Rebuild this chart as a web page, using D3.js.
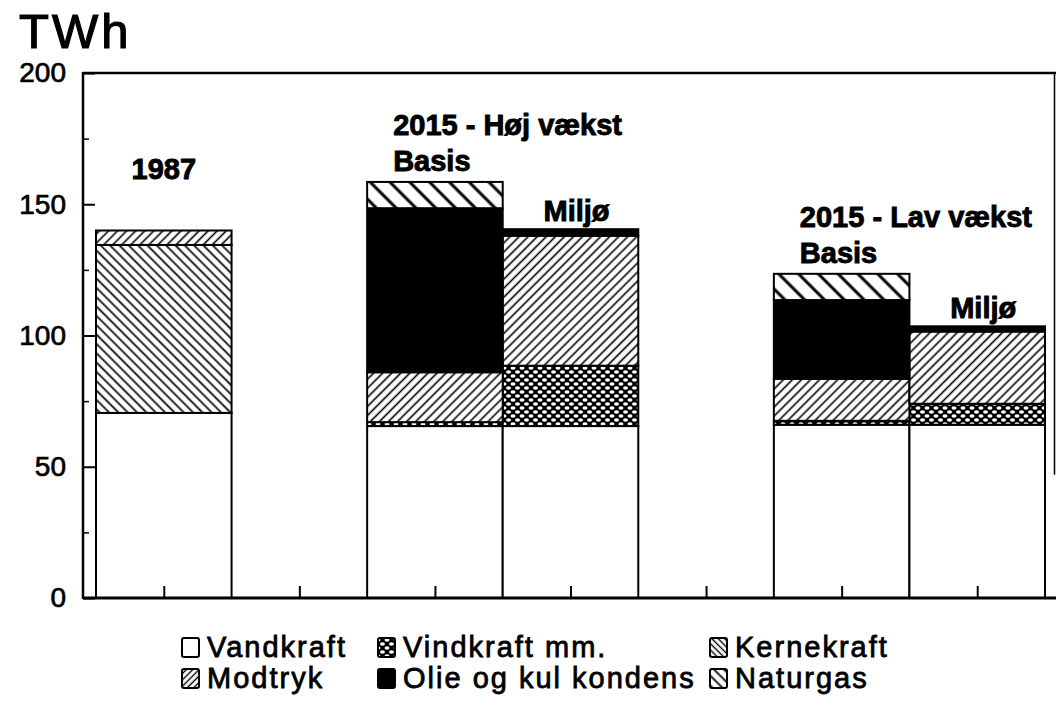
<!DOCTYPE html>
<html>
<head>
<meta charset="utf-8">
<script src="https://cdn.jsdelivr.net/npm/d3@7"></script>
<style>
  body { margin: 0; background: #fff; }
  svg { display: block; font-family: "Liberation Sans", Arial, Helvetica, sans-serif; }
</style>
</head>
<body>
<div id="chart"></div>
<script>
// slots along the x axis (two empty gaps between groups)
const slots = ["1987", "gap1", "hoj-basis", "hoj-miljo", "gap2", "lav-basis", "lav-miljo"];
const bars = ["1987", "hoj-basis", "hoj-miljo", "lav-basis", "lav-miljo"];

// TWh per bar, same order as bars
const vandkraft  = [70.5, 65.5, 65.5, 66, 66];
const vindkraft  = [0, 1.5, 23, 1.5, 8];
const kernekraft = [64, 0, 0, 0, 0];
const modtryk    = [5.5, 19, 49.5, 16, 27.5];
const olie       = [0, 62.5, 2.5, 30, 2];
const naturgas   = [0, 10, 0, 10, 0];

const seriesKeys = ["vandkraft", "vindkraft", "kernekraft", "modtryk", "olie", "naturgas"];
const seriesNames = ["Vandkraft", "Vindkraft mm.", "Kernekraft", "Modtryk", "Olie og kul kondens", "Naturgas"];
const legendOrder = ["vandkraft", "vindkraft", "kernekraft", "modtryk", "olie", "naturgas"];

const yTicks = [0, 50, 100, 150, 200];
const yMinorTicks = [25, 75, 125, 175];

const barLabels = ["1987", "Basis", "Miljø", "Basis", "Miljø"];
const groupTitles = [
    {label: "2015 - Høj vækst", bar: "hoj-basis"},
    {label: "2015 - Lav vækst", bar: "lav-basis"}
];

const W = 1056, H = 711;
const margin = {top: 73, right: 11, bottom: 113, left: 83};
const fillOf = {
    vandkraft: "#fff",
    vindkraft: "url(#p-vind)",
    kernekraft: "url(#p-kern)",
    modtryk: "url(#p-mod)",
    olie: "#000",
    naturgas: "url(#p-gas)"
};

function buildRows() {
    return bars.map((b, i) => ({
        bar: b,
        vandkraft: vandkraft[i],
        vindkraft: vindkraft[i],
        kernekraft: kernekraft[i],
        modtryk: modtryk[i],
        olie: olie[i],
        naturgas: naturgas[i]
    }));
}

function addPatterns(svg) {
    const defs = svg.append("defs");

    function lines(id, size, angle, sw) {
        const p = defs.append("pattern")
            .attr("id", id)
            .attr("patternUnits", "userSpaceOnUse")
            .attr("width", size).attr("height", size)
            .attr("patternTransform", `rotate(${angle})`);
        p.append("rect").attr("width", size).attr("height", size).attr("fill", "#fff");
        p.append("line")
            .attr("x1", size / 2).attr("y1", -1)
            .attr("x2", size / 2).attr("y2", size + 1)
            .attr("stroke", "#000").attr("stroke-width", sw);
    }
    lines("p-kern", 6.6, -45, 1.7);
    lines("p-mod", 6.4, 45, 1.6);
    lines("p-gas", 14, -45, 3);
    lines("p-kern-l", 4.5, -45, 1.4);
    lines("p-mod-l", 4.5, 45, 1.4);
    lines("p-gas-l", 7, -45, 1.8);

    const v = defs.append("pattern")
        .attr("id", "p-vind")
        .attr("patternUnits", "userSpaceOnUse")
        .attr("width", 9).attr("height", 8);
    v.append("rect").attr("width", 9).attr("height", 8).attr("fill", "#000");
    [[0, 0], [9, 0], [4.5, 4], [0, 8], [9, 8]].forEach(([cx, cy]) => {
        v.append("ellipse").attr("cx", cx).attr("cy", cy)
            .attr("rx", 2.5).attr("ry", 1.8).attr("fill", "#fff");
    });
}

function drawChart() {
    const svg = d3.select("#chart").append("svg")
        .attr("width", W).attr("height", H);

    addPatterns(svg);

    const x = d3.scaleBand().domain(slots).range([96, 1045]).padding(0);
    const y = d3.scaleLinear().domain([0, 200]).range([H - margin.bottom, margin.top]);

    const rows = buildRows();
    const stack = d3.stack().keys(seriesKeys);
    const stacked = stack(rows);

    // bar segments
    const g = svg.append("g").attr("class", "bars");
    stacked.forEach(layer => {
        g.selectAll(null)
            .data(layer.filter(d => d[1] - d[0] > 0))
            .enter().append("rect")
            .attr("x", d => x(d.data.bar))
            .attr("y", d => y(d[1]))
            .attr("width", x.bandwidth())
            .attr("height", d => y(d[0]) - y(d[1]))
            .attr("fill", fillOf[layer.key])
            .attr("stroke", "#000")
            .attr("stroke-width", 2);
    });

    // frame
    const x0 = margin.left, x1 = W, yb = y(0), yt = y(200);
    svg.append("line").attr("x1", x0).attr("x2", x1).attr("y1", yt).attr("y2", yt)
        .attr("stroke", "#000").attr("stroke-width", 2.5);
    svg.append("line").attr("x1", x0).attr("x2", x1).attr("y1", yb).attr("y2", yb)
        .attr("stroke", "#000").attr("stroke-width", 3);
    svg.append("line").attr("x1", x0).attr("x2", x0).attr("y1", yt - 1).attr("y2", yb + 1)
        .attr("stroke", "#000").attr("stroke-width", 2.5);
    svg.append("line").attr("x1", W - 1.5).attr("x2", W - 1.5).attr("y1", yt).attr("y2", y(47))
        .attr("stroke", "#000").attr("stroke-width", 1.5);

    // y axis
    const yAxis = d3.axisLeft(y).tickValues(yTicks).tickSize(-12).tickPadding(17).tickFormat(d3.format("d"));
    const yAx = svg.append("g").attr("transform", `translate(${x0},0)`).call(yAxis);
    yAx.select(".domain").remove();
    yAx.selectAll("line").attr("stroke", "#000").attr("stroke-width", 2);
    yAx.selectAll("text")
        .style("font-size", "28px")
        .style("font-family", "'Liberation Sans', Arial, sans-serif")
        .attr("fill", "#000")
        .attr("stroke", "#000").attr("stroke-width", 0.7);

    const yMinor = d3.axisLeft(y).tickValues(yMinorTicks).tickSize(-6).tickFormat("");
    const yMi = svg.append("g").attr("transform", `translate(${x0},0)`).call(yMinor);
    yMi.select(".domain").remove();
    yMi.selectAll("line").attr("stroke", "#000").attr("stroke-width", 1.5);

    // x axis: short ticks in the middle of every slot
    const xCenters = slots.map(s => x(s) + x.bandwidth() / 2);
    const xPos = d3.scaleIdentity();
    const xAxis = d3.axisTop(xPos).tickValues(xCenters).tickSize(12).tickFormat("");
    const xAx = svg.append("g").attr("transform", `translate(0,${yb})`).call(xAxis);
    xAx.select(".domain").remove();
    xAx.selectAll("line").attr("stroke", "#000").attr("stroke-width", 2);

    // unit
    svg.append("text")
        .attr("x", 19).attr("y", 48)
        .style("font-size", "49px")
        .style("letter-spacing", "3px")
        .attr("stroke", "#000").attr("stroke-width", 1.2)
        .text("TWh");

    // bar labels
    const totals = rows.map(r => d3.sum(seriesKeys, k => r[k]));
    const labelG = svg.append("g")
        .style("font-weight", "bold").style("font-size", "29px")
        .attr("stroke", "#000").attr("stroke-width", 0.9);
    bars.forEach((b, i) => {
        const lab = barLabels[i];
        const top = y(totals[i]);
        if (lab === "1987") {
            labelG.append("text").attr("x", x(b) + x.bandwidth() / 2).attr("y", top - 52)
                .attr("text-anchor", "middle").text(lab);
        } else if (lab === "Basis") {
            labelG.append("text").attr("x", x(b) + 26).attr("y", top - 11).text(lab);
        } else {
            labelG.append("text").attr("x", x(b) + x.bandwidth() / 2 + 6).attr("y", top - 8)
                .attr("text-anchor", "middle").text(lab);
        }
    });
    groupTitles.forEach(gt => {
        const i = bars.indexOf(gt.bar);
        labelG.append("text").attr("x", x(gt.bar) + 26).attr("y", y(totals[i]) - 47).text(gt.label);
    });

    // legend
    const legendCols = [182, 378, 710];
    const legendRows = [657, 688];
    const legendFill = {
        vandkraft: "#fff",
        vindkraft: "url(#p-vind)",
        kernekraft: "url(#p-kern-l)",
        modtryk: "url(#p-mod-l)",
        olie: "#000",
        naturgas: "url(#p-gas-l)"
    };
    const lg = svg.append("g").attr("class", "legend");
    legendOrder.forEach((k, i) => {
        const cx = legendCols[i % 3], cy = legendRows[Math.floor(i / 3)];
        lg.append("rect")
            .attr("x", cx).attr("y", cy - 19)
            .attr("width", 17).attr("height", 19)
            .attr("rx", 2)
            .attr("fill", legendFill[k])
            .attr("stroke", "#000").attr("stroke-width", 2);
        lg.append("text")
            .attr("x", cx + 25).attr("y", cy)
            .style("font-size", "29px")
            .style("letter-spacing", "2px")
            .attr("stroke", "#000").attr("stroke-width", 0.8)
            .text(seriesNames[seriesKeys.indexOf(k)]);
    });
}

document.addEventListener("DOMContentLoaded", drawChart);
</script>
</body>
</html>
